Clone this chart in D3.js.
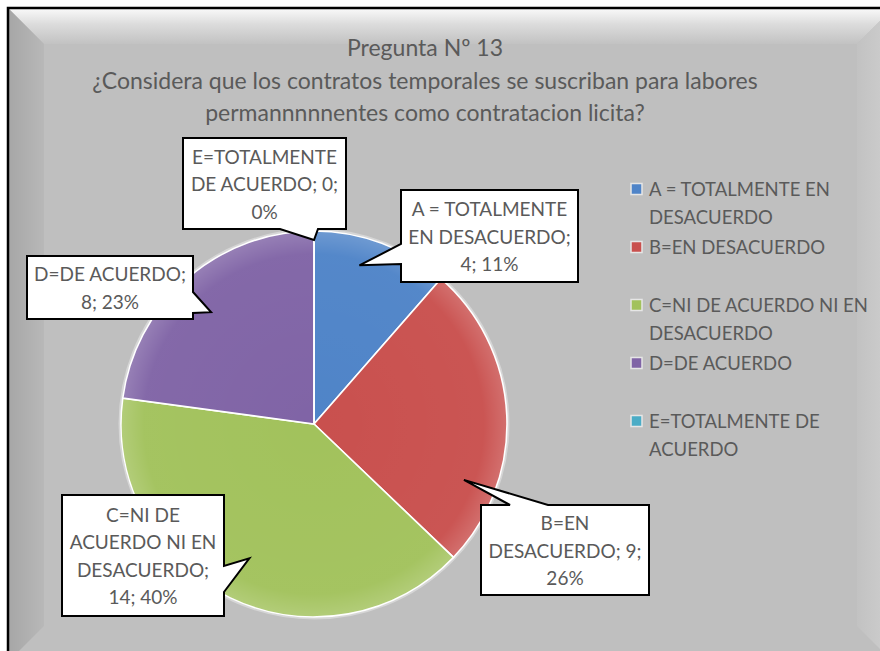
<!DOCTYPE html>
<html>
<head>
<meta charset="utf-8">
<script src="https://cdn.jsdelivr.net/npm/d3@7"></script>
<style>
  html, body { margin: 0; padding: 0; background: #fff; }
  svg { display: block; }
  text { font-family: Lato, "Open Sans", sans-serif; fill: #5A5A5A; }
</style>
</head>
<body>
<div id="chart"></div>
<script>
const categories = [
  "A = TOTALMENTE EN DESACUERDO",
  "B=EN DESACUERDO",
  "C=NI DE ACUERDO NI EN DESACUERDO",
  "D=DE ACUERDO",
  "E=TOTALMENTE DE ACUERDO"
];
const values = [4, 9, 14, 8, 0];
const titleLines = [
  "Pregunta Nº 13",
  "¿Considera que los contratos temporales se suscriban para labores",
  "permannnnnentes como contratacion licita?"
];
// legend text, wrapped as in the original
const legendLines = [
  ["A = TOTALMENTE EN", "DESACUERDO"],
  ["B=EN DESACUERDO"],
  ["C=NI DE ACUERDO NI EN", "DESACUERDO"],
  ["D=DE ACUERDO"],
  ["E=TOTALMENTE DE", "ACUERDO"]
];
// callout label text, value/percent filled in
const labelLines = [
  ["A = TOTALMENTE", "EN DESACUERDO;", "{v}; {p}"],
  ["B=EN", "DESACUERDO; {v};", "{p}"],
  ["C=NI DE", "ACUERDO NI EN", "DESACUERDO;", "{v}; {p}"],
  ["D=DE ACUERDO;", "{v}; {p}"],
  ["E=TOTALMENTE", "DE ACUERDO; {v};", "{p}"]
];
const colors = ["#4F84C8", "#C9504E", "#A2C25C", "#8064A6", "#4BACC6"];

const width = 880, height = 651;
const cx = 314, cy = 424, R = 193;

const svg = d3.select("#chart").append("svg")
  .attr("width", width).attr("height", height);
const defs = svg.append("defs");

// ---------- frame with bevel ----------
const fx0 = 8, fy0 = 8, fx1 = 893, fy1 = 662, bev = 36;
svg.append("rect").attr("x", fx0).attr("y", fy0)
  .attr("width", fx1 - fx0).attr("height", fy1 - fy0)
  .attr("fill", "#BFBFBF");

function lg(id, x1, y1, x2, y2, stops) {
  const g = defs.append("linearGradient").attr("id", id)
    .attr("x1", x1).attr("y1", y1).attr("x2", x2).attr("y2", y2);
  stops.forEach(s => g.append("stop").attr("offset", s[0]).attr("stop-color", s[1]));
}
lg("bevTop", 0, 0, 0, 1, [[0, "#FAFAFA"], [0.45, "#DCDCDC"], [1, "#C2C2C2"]]);
lg("bevLeft", 0, 0, 1, 0, [[0, "#A6A6A6"], [1, "#B8B8B8"]]);
lg("bevRight", 0, 0, 1, 0, [[0, "#C2C2C2"], [1, "#CFCFCF"]]);

const ix0 = fx0 + bev, iy0 = fy0 + bev, ix1 = fx1 - bev, iy1 = fy1 - bev;
svg.append("polygon")
  .attr("points", [[fx0, fy0], [fx1, fy0], [ix1, iy0], [ix0, iy0]].join(" "))
  .attr("fill", "url(#bevTop)");
svg.append("polygon")
  .attr("points", [[fx0, fy0], [ix0, iy0], [ix0, iy1], [fx0, fy1]].join(" "))
  .attr("fill", "url(#bevLeft)");
svg.append("polygon")
  .attr("points", [[fx1, fy0], [fx1, fy1], [ix1, iy1], [ix1, iy0]].join(" "))
  .attr("fill", "url(#bevRight)");
svg.append("rect").attr("x", fx0).attr("y", fy0)
  .attr("width", fx1 - fx0).attr("height", fy1 - fy0)
  .attr("fill", "none").attr("stroke", "#000").attr("stroke-width", 2.5);

// ---------- title ----------
svg.append("g").selectAll("text").data(titleLines).join("text")
  .attr("x", 425).attr("y", (d, i) => 47 + i * 32.5)
  .attr("text-anchor", "middle").attr("dominant-baseline", "central")
  .style("font-size", "23px")
  .text(d => d);

// ---------- pie ----------
const total = d3.sum(values);
const pie = d3.pie().sort(null).value(d => d)(values);
const arc = d3.arc().innerRadius(0).outerRadius(R);

const shine = defs.append("radialGradient").attr("id", "shine")
  .attr("gradientUnits", "userSpaceOnUse")
  .attr("cx", 0).attr("cy", 0).attr("r", R);
shine.append("stop").attr("offset", 0).attr("stop-color", "#fff").attr("stop-opacity", 0);
shine.append("stop").attr("offset", 0.88).attr("stop-color", "#fff").attr("stop-opacity", 0.03);
shine.append("stop").attr("offset", 1).attr("stop-color", "#fff").attr("stop-opacity", 0.18);

const gPie = svg.append("g").attr("transform", `translate(${cx},${cy})`);
gPie.append("circle").attr("r", R + 1.5).attr("fill", "none")
  .attr("stroke", "#D6D6D6").attr("stroke-width", 2);
gPie.selectAll("path.slice").data(pie).join("path")
  .attr("class", "slice")
  .attr("d", arc)
  .attr("fill", (d, i) => colors[i])
  .attr("stroke", "#fff").attr("stroke-width", 1.6);
gPie.selectAll("path.shine").data(pie.filter(d => d.value > 0)).join("path")
  .attr("class", "shine")
  .attr("d", arc)
  .attr("fill", "url(#shine)");

// ---------- callouts ----------
const fmtPct = v => Math.round(v / total * 100) + "%";
// box: x, y, w, h ; side where pointer attaches ; base span ; tip angle offset (deg) ; tip radius
const callouts = [
  { box: [401, 190, 177, 92], side: "left", base: [244, 264], off: -4.6, tr: 165 },
  { box: [481, 505, 168, 90], side: "top", base: [510, 548], off: 23, tr: 160 },
  { box: [62, 495, 162, 121], side: "right", base: [566, 592], off: 0, tr: 149 },
  { box: [27, 256, 166, 63], side: "right", base: [292, 313], off: -1.5, tr: 152 },
  { box: [183, 138, 163, 91], side: "bottom", base: [280, 318], off: 0, tr: 184 }
];

function calloutPath(c, tip) {
  const [x, y, w, h] = c.box;
  const [b0, b1] = c.base;
  const p = d3.path();
  p.moveTo(x, y);
  if (c.side === "top") { p.lineTo(b0, y); p.lineTo(tip[0], tip[1]); p.lineTo(b1, y); }
  p.lineTo(x + w, y);
  if (c.side === "right") { p.lineTo(x + w, b0); p.lineTo(tip[0], tip[1]); p.lineTo(x + w, b1); }
  p.lineTo(x + w, y + h);
  if (c.side === "bottom") { p.lineTo(b1, y + h); p.lineTo(tip[0], tip[1]); p.lineTo(b0, y + h); }
  p.lineTo(x, y + h);
  if (c.side === "left") { p.lineTo(x, b1); p.lineTo(tip[0], tip[1]); p.lineTo(x, b0); }
  p.closePath();
  return p.toString();
}

const gLab = svg.append("g");
pie.forEach((d, i) => {
  const c = callouts[i];
  const mid = (d.startAngle + d.endAngle) / 2 + c.off * Math.PI / 180;
  const tip = [cx + c.tr * Math.sin(mid), cy - c.tr * Math.cos(mid)];
  gLab.append("path").attr("d", calloutPath(c, tip))
    .attr("fill", "#fff").attr("stroke", "#000").attr("stroke-width", 2)
    .attr("stroke-linejoin", "miter");
  const lines = labelLines[i].map(s => s.replace("{v}", d.value).replace("{p}", fmtPct(d.value)));
  const [x, y, w, h] = c.box;
  const lh = 27.5;
  const y0 = y + h / 2 - (lines.length - 1) * lh / 2;
  gLab.append("g").selectAll("text").data(lines).join("text")
    .attr("x", x + w / 2).attr("y", (s, k) => y0 + k * lh)
    .attr("text-anchor", "middle").attr("dominant-baseline", "central")
    .style("font-size", "19px")
    .text(s => s);
});

// ---------- legend ----------
const legY = d3.scaleBand().domain(d3.range(categories.length)).range([175, 465]);
const gLeg = svg.append("g");
categories.forEach((name, i) => {
  const y = legY(i) + 14;
  gLeg.append("rect").attr("x", 631).attr("y", y - 5.5)
    .attr("width", 11).attr("height", 11)
    .attr("fill", colors[i]).attr("stroke", "#E6E6E6").attr("stroke-width", 1.5);
  gLeg.append("g").selectAll("text").data(legendLines[i]).join("text")
    .attr("x", 649).attr("y", (s, k) => y + k * 28)
    .attr("dominant-baseline", "central")
    .style("font-size", "18.5px")
    .text(s => s);
});
</script>
</body>
</html>
